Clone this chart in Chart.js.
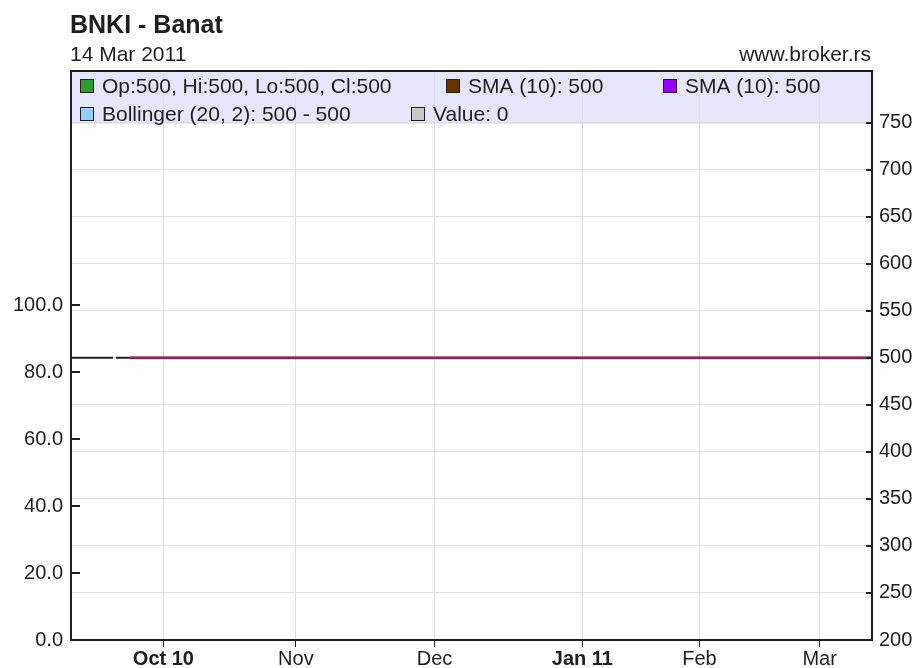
<!DOCTYPE html>
<html>
<head>
<meta charset="utf-8">
<script src="https://cdn.jsdelivr.net/npm/chart.js@4.4.1/dist/chart.umd.min.js"></script>
<style>
  html, body { margin: 0; padding: 0; background: #fff; }
  #wrap { width: 917px; height: 668px; }
</style>
</head>
<body>
<div id="wrap"><canvas id="chart"></canvas></div>
<script>
const title = 'BNKI - Banat'
const dateLabel = '14 Mar 2011'
const source = 'www.broker.rs'

// x is the trading-day index, Sep 2010 .. 14 Mar 2011
const monthDays = [15, 36.5, 59, 83, 102, 121.5]
const monthLabels = ['Oct 10', 'Nov', 'Dec', 'Jan 11', 'Feb', 'Mar']
const boldMonths = ['Oct 10', 'Jan 11']

const priceTicks = [200, 250, 300, 350, 400, 450, 500, 550, 600, 650, 700, 750]
const valueTicks = [0, 20, 40, 60, 80, 100]

const closeDays = [0, 6.8, 7, 7.3, 130]
const closeVals = [500, 500, null, 500, 500]
const smaDays = [9.5, 130]
const smaBrownVals = [500, 500]
const smaPurpleVals = [500, 500]
const bollDays = [19, 130]
const bollVals = [500, 500]

const legendTexts = [
  ['Op:500, Hi:500, Lo:500, Cl:500', 'SMA (10): 500', 'SMA (10): 500'],
  ['Bollinger (20, 2): 500 - 500', 'Value: 0']
]
const legendColors = [
  ['#339933', '#663300', '#9900ff'],
  ['#99ccff', '#c8c8c8']
]

const font = "'Liberation Sans', Arial, sans-serif"
const ink = '#1e1e1e'

function pts(xs, ys) {
  return xs.map((x, i) => ({ x, y: ys[i] }))
}

const frame = {
  id: 'frame',
  beforeDraw(chart) {
    const { ctx, chartArea: a } = chart
    ctx.save()
    ctx.fillStyle = '#e6e6fa'
    ctx.fillRect(a.left, a.top, a.right - a.left, 53)
    ctx.restore()
  },
  afterDraw(chart) {
    const { ctx, chartArea: a } = chart
    ctx.save()
    ctx.fillStyle = ink
    ctx.textBaseline = 'alphabetic'
    ctx.font = 'bold 25px ' + font
    ctx.fillText(title, 70, 33)
    ctx.font = '21px ' + font
    ctx.fillText(dateLabel, 70, 61)
    ctx.textAlign = 'right'
    ctx.fillText(source, 871, 61)

    // legend
    const xs = [[80, 446, 663], [80, 411]]
    const ys = [86, 114]
    ctx.textAlign = 'left'
    ctx.textBaseline = 'middle'
    legendTexts.forEach((row, r) => {
      row.forEach((t, i) => {
        const x = xs[r][i]
        const y = ys[r]
        ctx.fillStyle = legendColors[r][i]
        ctx.fillRect(x, y - 7, 14, 14)
        ctx.strokeStyle = ink
        ctx.lineWidth = 1
        ctx.strokeRect(x + 0.5, y - 6.5, 13, 13)
        ctx.fillStyle = ink
        ctx.fillText(t, x + 22, y + 1)
      })
    })

    // top border and inward tick marks
    ctx.strokeStyle = ink
    ctx.lineWidth = 2
    ctx.beginPath()
    ctx.moveTo(a.left - 1, a.top)
    ctx.lineTo(a.right + 1, a.top)
    const yl = chart.scales.v
    valueTicks.forEach(v => {
      const y = Math.round(yl.getPixelForValue(v))
      ctx.moveTo(a.left, y)
      ctx.lineTo(a.left + 9, y)
    })
    const yr = chart.scales.y
    priceTicks.forEach(v => {
      const y = Math.round(yr.getPixelForValue(v))
      ctx.moveTo(a.right - 6, y)
      ctx.lineTo(a.right, y)
    })
    ctx.stroke()
    ctx.restore()
  }
}

new Chart(document.getElementById('chart'), {
  type: 'line',
  data: {
    datasets: [
      { data: pts(smaDays, smaBrownVals), yAxisID: 'y', borderColor: '#8a2838', borderWidth: 2 },
      { data: pts(smaDays, smaPurpleVals), yAxisID: 'y', borderColor: 'rgba(153,0,255,0.3)', borderWidth: 4 },
      { data: pts(closeDays, closeVals), yAxisID: 'y', borderColor: '#222', borderWidth: 2, spanGaps: false },
      { data: pts(bollDays, bollVals), yAxisID: 'y', borderColor: '#99ccff', borderWidth: 1 }
    ]
  },
  plugins: [frame],
  options: {
    responsive: true,
    maintainAspectRatio: false,
    animation: false,
    layout: { padding: { top: 71, left: 0, right: 0, bottom: 0 } },
    elements: { point: { radius: 0 }, line: { tension: 0 } },
    plugins: { legend: { display: false }, tooltip: { enabled: false } },
    scales: {
      x: {
        type: 'linear',
        min: 0,
        max: 130,
        afterBuildTicks: s => { s.ticks = monthDays.map(value => ({ value })) },
        afterFit: s => { s.height = 28 },
        grid: { color: '#e0e0e0', tickColor: ink, tickLength: 7 },
        border: { color: ink, width: 2 },
        ticks: {
          autoSkip: false,
          maxRotation: 0,
          padding: 0,
          color: ink,
          callback: (v, i) => monthLabels[i],
          font: c => ({
            family: font,
            size: 20,
            weight: boldMonths.includes(monthLabels[c.index]) ? 'bold' : 'normal'
          })
        }
      },
      v: {
        type: 'linear',
        position: 'left',
        min: 0,
        max: 170,
        afterBuildTicks: s => { s.ticks = valueTicks.map(value => ({ value })) },
        afterFit: s => { s.width = 71 },
        grid: { display: false, drawTicks: false },
        border: { color: ink, width: 2 },
        ticks: { padding: 8, color: ink, font: { family: font, size: 20 }, callback: v => v.toFixed(1) }
      },
      y: {
        type: 'linear',
        position: 'right',
        min: 200,
        max: 805,
        afterBuildTicks: s => { s.ticks = priceTicks.map(value => ({ value })) },
        afterFit: s => { s.width = 45 },
        grid: { color: '#e0e0e0', drawTicks: false },
        border: { color: ink, width: 2 },
        ticks: { padding: 7, color: ink, font: { family: font, size: 20 }, callback: v => String(v) }
      }
    }
  }
})
</script>
</body>
</html>
